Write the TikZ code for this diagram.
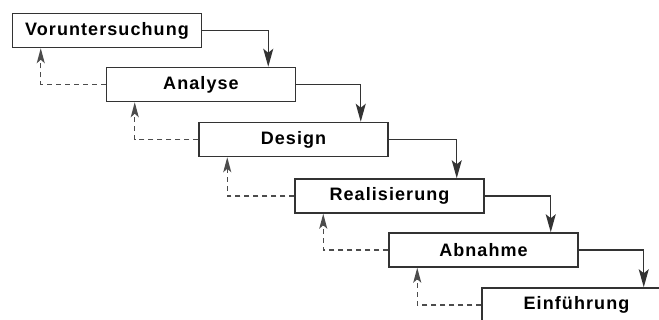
\documentclass[tikz,border=0pt]{standalone}
\usepackage{fontspec}
\setmainfont{Liberation Sans}[LetterSpace=6]
\usetikzlibrary{arrows.meta}
\begin{document}
\begin{tikzpicture}[x=1pt,y=-1pt,
  phase/.style={draw=black!80, line width=1.5pt, fill=white, minimum width=189pt, minimum height=34pt, inner sep=0pt, font=\fontsize{18}{21}\selectfont\bfseries},
  flow/.style={draw=black!80, line width=1.3pt, -{Stealth[length=18pt,width=10pt,inset=4pt]}},
  back/.style={draw=black!70, line width=1.3pt, dash pattern=on 5pt off 4pt, -{Stealth[length=15pt,width=8pt,inset=3.5pt]}}]
\useasboundingbox (0,0) rectangle (659,320);
\clip (0,0) rectangle (659,320);
\node[phase] (b1) at (107,30.5) {Voruntersuchung};
\node[phase] (b2) at (201,84.5) {Analyse};
\node[phase] (b3) at (293.5,139.5) {Design};
\node[phase] (b4) at (389.5,196) {Realisierung};
\node[phase] (b5) at (483.5,250) {Abnahme};
\node[phase] (b6) at (576.5,305) {Einführung};
\foreach \a/\b in {b1/b2,b2/b3,b3/b4,b4/b5,b5/b6}{
  \draw[flow] (\a.east) -| ([xshift=-28pt]\b.north east);
  \draw[back] (\b.west) -| ([xshift=29pt]\a.south west);
}
\end{tikzpicture}
\end{document}
